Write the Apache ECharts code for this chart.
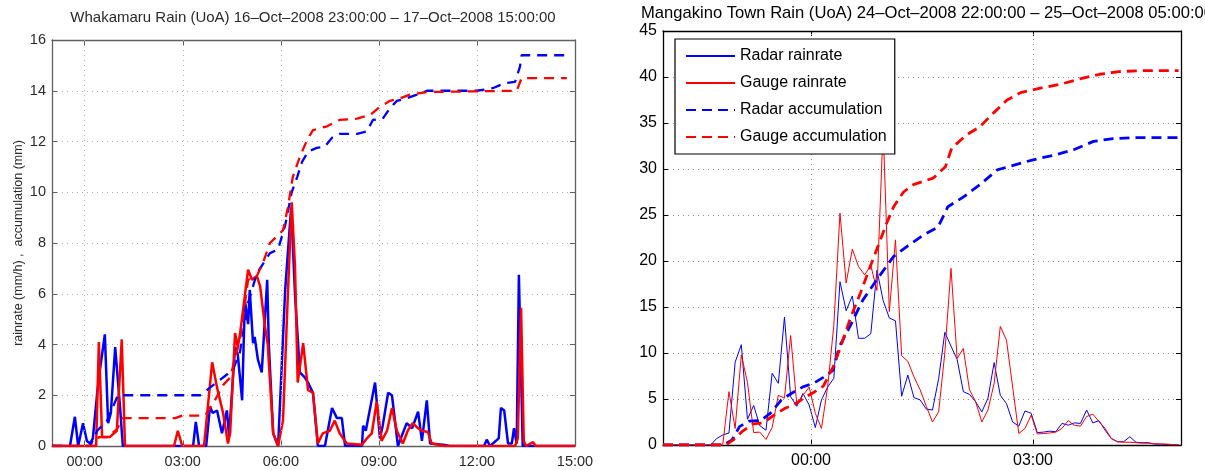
<!DOCTYPE html>
<html><head><meta charset="utf-8">
<script src="https://cdn.jsdelivr.net/npm/echarts@6/dist/echarts.min.js"></script>
<style>html,body{margin:0;padding:0;background:#fff}#c{width:1205px;height:470px}</style>
</head><body><div id="c"></div>
<script>
// ---------- Left chart: Whakamaru (16-Oct-2008 23:00 -> 17-Oct-2008 15:00) ----------
const leftTitle = 'Whakamaru Rain (UoA) 16–Oct–2008 23:00:00 – 17–Oct–2008 15:00:00';
const leftYName = 'rainrate (mm/h) ,  accumulation (mm)';
const leftTickHours = [0, 3, 6, 9, 12, 15];

const lRadarRateT = ['23:00','23:33','23:42','23:48','23:51','23:57','00:04','00:10','00:15','00:23','00:28','00:37','00:43','00:48','00:56','01:05','01:10',
  '03:19','03:24','03:30','03:43','03:50','03:55','04:03','04:12','04:21','04:25','04:36','04:41','04:49','04:54','05:00','05:03','05:09','05:12','05:18','05:25','05:35','05:38','05:46','05:55',
  '06:08','06:19','06:26','06:35','06:44','06:50','06:59','07:08','07:21','07:34','07:43','07:52','07:58','08:29','08:31','08:36','08:53','09:02','09:07','09:17','09:24','09:35',
  '09:51','10:01','10:12','10:19','10:28','10:34','10:58','11:10','12:13','12:18','12:24','12:40','12:44','12:50','12:57','13:04','13:08','13:13','13:17','13:24','15:00'];
const lRadarRateV = [0,0,1.15,0,0,0.9,0.2,0.1,0.3,2.1,3.0,4.4,0.9,1.3,3.9,1.5,0,
  0,0.95,0,0,1.55,1.3,1.4,0.5,1.4,0.4,3.9,3.6,1.8,5.75,4.8,6.15,4.05,4.3,3.4,2.9,6.55,4.0,0.5,0,
  6.15,9.4,6.0,2.9,2.7,2.5,2.1,0,0,1.5,1.1,1.1,0,0,0.8,0.6,2.5,0.3,0.8,2.1,2.0,0,
  0.9,0.7,1.35,0.2,1.8,0.1,0.05,0,0,0.25,0,0.3,1.5,1.4,0.1,0.1,0.7,0.1,6.75,0,0];

const lGaugeRateT = ['23:00','00:21','00:26','00:32','00:46','00:59','01:08','01:14','02:44','02:51','02:59','03:39','03:54','04:03','04:14','04:23','04:27','04:36','04:41','04:45',
  '05:00','05:07','05:16','05:22','05:31','05:36','05:46','05:55','06:04','06:13','06:20','06:26','06:31','06:41','06:50','06:59','07:08','07:17','07:30','07:39','07:48','08:01',
  '08:29','08:38','08:47','08:56','09:05','09:15','09:24','09:33','09:44','09:53','10:02','10:12','10:19','10:30','10:37','11:01','13:10','13:15','13:21','13:26','13:30','13:43','13:48','15:00'];
const lGaugeRateV = [0,0,4.1,0.35,0.35,0.6,4.2,0,0,0.6,0,0,3.3,2.3,1.3,0.1,0.5,4.45,3.9,4.4,
  6.95,6.55,6.7,6.3,4.7,4.0,0.5,0,1.0,6.0,9.6,7.1,2.5,4.05,2.2,2.1,0.1,0.5,0.6,1.0,0.5,0.1,
  0.05,0.3,0.5,1.75,0.2,0.6,1.5,0.6,0.1,0.6,0.9,0.7,0.6,0.55,0.1,0,0,0.3,5.45,0.2,0,0.15,0,0];

const lRadarAccT = ['23:00','00:10','00:23','00:41','01:01','03:32','03:50','04:14','04:32','04:45','05:00','05:16','05:40','05:55','06:08','06:20','06:30','06:39','06:50',
  '07:06','07:21','07:34','07:48','08:20','08:38','08:49','09:07','09:20','09:33','09:51','10:10','10:28','12:00','12:29','12:51','13:10','13:19','13:22','14:45'];
const lRadarAccV = [0,0,0.6,1.0,2.0,2.0,2.3,2.7,3.0,3.7,5.65,6.8,7.6,7.75,8.7,10.0,10.6,11.2,11.6,
  11.75,11.8,12.15,12.3,12.3,12.4,12.85,12.9,13.3,13.6,13.7,13.85,14.0,14.0,14.1,14.3,14.35,14.95,15.4,15.4];

const lGaugeAccT = ['23:00','00:19','00:26','00:41','00:59','01:10','02:46','02:59','03:41','03:59','04:14','04:27','04:45','05:00','05:16','05:27','05:40','06:04','06:13',
  '06:22','06:35','06:48','06:59','07:25','07:48','08:20','08:44','08:58','09:20','09:39','09:57','10:28','13:13','13:22','14:45'];
const lGaugeAccV = [0,0,0.35,0.35,0.65,1.1,1.1,1.2,1.2,1.8,2.4,2.7,4.2,6.55,6.7,7.2,8.0,8.5,9.4,
  10.6,11.4,12.05,12.45,12.6,12.85,12.9,13.05,13.3,13.6,13.7,13.85,13.95,14.0,14.5,14.5];

// ---------- Right chart: Mangakino Town (24-Oct-2008 22:00 -> 25-Oct-2008 05:00) ----------
const rightTitle = 'Mangakino Town Rain (UoA) 24–Oct–2008 22:00:00 – 25–Oct–2008 05:00:00';
const rightTickHours = [0, 3];
const legendNames = ['Radar rainrate', 'Gauge rainrate', 'Radar accumulation', 'Gauge accumulation'];
const rRateStart = '22:03:30';   // first 5-minute sample
const rRateStepMin = 5;
const rRadarRateV = [0,0,0,0,0,0,0,0,0.7,1.1,1.3,9.0,10.9,2.8,4.3,2.1,1.6,7.8,6.7,13.9,
  5.25,4.2,5.6,4.35,1.9,4.9,6.3,7.25,17.75,14.6,16.2,11.6,11.6,12.1,19.0,15.7,13.8,13.5,5.3,7.6,
  5.15,4.9,3.9,3.8,7.2,12.25,10.75,9.3,5.8,5.5,4.7,3.6,5.1,8.95,5.4,4.5,2.5,2.05,3.7,3.45,
  1.35,1.4,1.5,1.45,2.35,2.15,2.4,2.35,3.8,2.4,2.65,1.6,0.7,0.35,0.35,0.9,0.3,0.25,0.25,0.1,
  0.1,0.05,0,0];
const rGaugeRateV = [0,0,0,0,0,0,0,0,0,0.1,5.8,1.8,9.8,6.8,1.35,1.4,0.6,1.9,5.4,5.1,
  11.9,4.4,5.4,6.3,3.45,1.8,6.3,13.0,25.2,17.6,21.3,19.4,18.5,19.5,16.8,34.5,14.5,22.3,9.7,9.1,
  7.4,6.0,4.2,2.5,3.6,10.0,19.2,9.4,10.5,6.0,4.7,2.5,3.8,6.7,12.9,11.4,6.3,1.25,1.8,3.25,
  1.2,1.25,1.3,1.4,1.8,2.65,2.15,2.05,3.1,3.35,2.55,1.8,0.7,0.35,0.3,0.3,0.25,0.2,0.2,0.15,
  0.1,0.1,0.05,0];

const rRadarAccT = ['22:00','22:49','22:56','23:02','23:10','23:19','23:27','23:36','23:44','23:54','00:02','00:10','00:18','00:23','00:32','00:42','00:53','01:01','01:07',
  '01:18','01:31','01:43','01:51','02:04','02:17','02:31','02:44','03:00','03:17','03:33','03:49','04:05','04:21','04:58'];
const rRadarAccV = [0,0,0.55,2.0,2.6,2.65,3.45,4.9,5.6,6.35,6.7,7.35,8.15,10.7,13.0,15.75,17.9,19.4,20.5,
  21.6,22.8,23.7,25.9,27.0,28.3,29.9,30.4,31.0,31.5,32.1,33.0,33.3,33.4,33.4];

const rGaugeAccT = ['22:00','22:51','22:57','23:04','23:13','23:21','23:29','23:39','23:46','23:54','00:02','00:10','00:18','00:23','00:32','00:40','00:48','00:56','01:01',
  '01:07','01:15','01:23','01:39','01:49','01:54','02:06','02:17','02:28','02:39','02:50','03:06','03:22','03:38','03:54','04:11','04:30','04:58'];
const rGaugeAccV = [0,0,0.55,1.45,2.3,2.4,3.15,4.0,4.35,5.1,5.7,6.4,8.5,10.3,13.8,16.5,19.4,22.2,24.0,
  25.9,27.5,28.3,29.0,30.25,32.25,33.7,34.6,36.1,37.5,38.3,38.8,39.2,39.8,40.3,40.6,40.7,40.7];

// ---------- helpers ----------
function hv(s) { // clock string -> hours relative to midnight of the second day
  const p = s.split(':').map(Number);
  let v = p[0] + p[1] / 60 + (p[2] || 0) / 3600;
  if (p[0] >= 18) v -= 24;
  return v;
}
function pairs(T, V) { return T.map((t, i) => [hv(t), V[i]]); }
function regular(start, stepMin, V) { const h0 = hv(start); return V.map((v, i) => [h0 + i * stepMin / 60, v]); }
function fmtH(v) { let h = ((Math.round(v) % 24) + 24) % 24; return (h < 10 ? '0' : '') + h + ':00'; }

const FONT = 'Liberation Sans, Arial, Helvetica, sans-serif';
const BLUE = '#0000ff', RED = '#ff0000';

const L = { frame: '#606060', text: '#2a2a2a', grid: '#b0b0b0', size: 14.5 };
const R = { frame: '#000000', text: '#000000', grid: '#8a8a8a', size: 16 };

function bottomX(grid, min, max, ticks, S) {
  return { type: 'value', gridIndex: grid, min, max, position: 'bottom',
    axisLine: { show: true, onZero: false, lineStyle: { color: S.frame, width: 1.3 } },
    axisTick: { show: true, inside: true, length: 5, customValues: ticks, lineStyle: { color: S.frame } },
    axisLabel: { customValues: ticks, formatter: fmtH, fontSize: S.size, color: S.text, fontFamily: FONT, margin: 8 },
    splitLine: { show: false } };
}
function topX(grid, min, max, ticks, S) {
  return { type: 'value', gridIndex: grid, min, max, position: 'top',
    axisLine: { show: true, onZero: false, lineStyle: { color: S.frame, width: 1.3 } },
    axisTick: { show: true, inside: true, length: 5, customValues: ticks, lineStyle: { color: S.frame } },
    axisLabel: { show: false }, splitLine: { show: false } };
}
function leftY(grid, max, interval, S, extra) {
  return Object.assign({ type: 'value', gridIndex: grid, min: 0, max, interval, position: 'left',
    axisLine: { show: true, onZero: false, lineStyle: { color: S.frame, width: 1.3 } },
    axisTick: { show: true, inside: true, length: 5, lineStyle: { color: S.frame } },
    axisLabel: { fontSize: S.size, color: S.text, fontFamily: FONT, margin: 6 },
    splitLine: { show: true, lineStyle: { type: [1, 4], color: S.grid, width: 1 } } }, extra || {});
}
function rightY(grid, max, interval, S) {
  return { type: 'value', gridIndex: grid, min: 0, max, interval, position: 'right',
    axisLine: { show: true, onZero: false, lineStyle: { color: S.frame, width: 1.3 } },
    axisTick: { show: true, inside: true, length: 5, lineStyle: { color: S.frame } },
    axisLabel: { show: false }, splitLine: { show: false } };
}
function vgrid(grid, xs, S) {
  return { type: 'line', xAxisIndex: grid, yAxisIndex: grid, data: [], silent: true, z: 1,
    markLine: { silent: true, symbol: ['none', 'none'], label: { show: false }, animation: false,
      lineStyle: { type: [1, 4], color: S.grid, width: 1 }, emphasis: { disabled: true },
      data: xs.map(x => ({ xAxis: x })) } };
}
function ln(name, grid, data, color, width, dash, z) {
  return { name, type: 'line', xAxisIndex: grid, yAxisIndex: grid, data, symbol: 'none', showSymbol: false,
    lineStyle: { color, width, type: dash || 'solid' }, itemStyle: { color }, z, silent: true, animation: false };
}

const chart = echarts.init(document.getElementById('c'), null, { renderer: 'canvas' });
chart.setOption({
  animation: false,
  backgroundColor: '#ffffff',
  title: [
    { text: leftTitle, left: 313, top: 10, textAlign: 'center', padding: 0,
      textStyle: { fontSize: 15, fontWeight: 'normal', color: L.text, fontFamily: FONT } },
    { text: rightTitle, left: 641, top: 5, padding: 0,
      textStyle: { fontSize: 16.6, fontWeight: 'normal', color: '#000', fontFamily: FONT } }
  ],
  legend: {
    data: legendNames, orient: 'vertical', left: 675, top: 39,
    padding: [8, 8, 8, 10], itemGap: 9, itemWidth: 49, itemHeight: 14,
    borderColor: '#000', borderWidth: 1.2, backgroundColor: '#fff',
    itemStyle: { opacity: 0 },
    textStyle: { fontSize: 16, color: '#000', fontFamily: FONT, lineHeight: 18 },
    selectedMode: false, z: 10
  },
  grid: [
    { left: 52, right: 630, top: 40, bottom: 24 },
    { left: 663, right: 24, top: 31, bottom: 25 }
  ],
  xAxis: [
    bottomX(0, -1, 15, leftTickHours, L),
    bottomX(1, -2, 5, rightTickHours, R),
    topX(0, -1, 15, leftTickHours, L),
    topX(1, -2, 5, rightTickHours, R)
  ],
  yAxis: [
    leftY(0, 16, 2, L, { name: leftYName, nameLocation: 'middle', nameGap: 27,
      nameTextStyle: { fontSize: 12.5, color: L.text, fontFamily: FONT } }),
    leftY(1, 45, 5, R),
    rightY(0, 16, 2, L),
    rightY(1, 45, 5, R)
  ],
  series: [
    vgrid(0, [0, 3, 6, 9, 12], L),
    vgrid(1, [0, 3], R),
    ln('W radar rainrate', 0, pairs(lRadarRateT, lRadarRateV), BLUE, 2.5, null, 3),
    ln('W gauge rainrate', 0, pairs(lGaugeRateT, lGaugeRateV), RED, 2.5, null, 4),
    ln('W radar accumulation', 0, pairs(lRadarAccT, lRadarAccV), BLUE, 2.3, [10, 7], 5),
    ln('W gauge accumulation', 0, pairs(lGaugeAccT, lGaugeAccV), RED, 2.3, [10, 7], 6),
    ln(legendNames[0], 1, regular(rRateStart, rRateStepMin, rRadarRateV), BLUE, 1, null, 3),
    ln(legendNames[1], 1, regular(rRateStart, rRateStepMin, rGaugeRateV), RED, 1, null, 4),
    ln(legendNames[2], 1, pairs(rRadarAccT, rRadarAccV), BLUE, 2.8, [10, 6], 5),
    ln(legendNames[3], 1, pairs(rGaugeAccT, rGaugeAccV), RED, 2.8, [10, 6], 6)
  ]
});
</script></body></html>
